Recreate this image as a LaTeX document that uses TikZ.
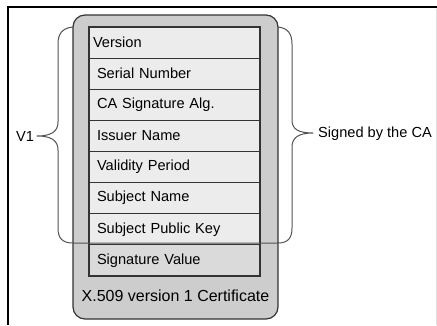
\documentclass[tikz,border=0pt]{standalone}
\usepackage{fontspec}
\setmainfont{Liberation Sans}
\definecolor{certgray}{HTML}{CDCDCD}
\definecolor{fieldgray}{HTML}{ECECEC}
\definecolor{siggray}{HTML}{DADADA}
\definecolor{edge}{HTML}{333333}
\tikzset{
  field/.style={draw=edge, line width=1.2pt, fill=fieldgray, minimum width=171pt,
    minimum height=31.125pt, text width=155pt, inner xsep=8pt, inner ysep=0pt,
    align=left, font=\fontsize{14.6}{16}\selectfont},
  label/.style={font=\fontsize{14.6}{16}\selectfont, inner sep=0pt},
  bracket/.style={draw=edge!85, line width=1pt, line join=round}
}
\begin{document}
\begin{tikzpicture}[x=1pt, y=-1pt]
  \useasboundingbox (0,0) rectangle (437,325);
  % page frame
  \draw[black, line width=1.6pt] (437,7) -- (8,7) -- (8,325);
  \draw[black!12, line width=0.6pt] (436,9) -- (436,325);
  % certificate body
  \node[draw=edge, line width=1.2pt, fill=certgray, rounded corners=12pt,
        minimum width=205pt, minimum height=304pt, inner sep=0pt]
        (cert) at (175.5,167) {};
  % field rows
  \node[field] (r1) at (174.5, 42.56)  {\hspace*{-4pt}Version};
  \node[field] (r2) at (174.5, 73.69)  {Serial Number};
  \node[field] (r3) at (174.5, 104.81) {CA Signature Alg.};
  \node[field] (r4) at (174.5, 135.94) {Issuer Name};
  \node[field] (r5) at (174.5, 167.06) {Validity Period};
  \node[field] (r6) at (174.5, 198.19) {Subject Name};
  \node[field] (r7) at (174.5, 229.31) {Subject Public Key};
  \node[field, fill=siggray] (r8) at (174.5, 260.44) {Signature Value};
  \node[label, font=\fontsize{16}{18}\selectfont] (cap) at (175.5, 296) {X.509 version 1 Certificate};
  % side labels
  \node[label] (v1) at (25, 136) {V1};
  \node[label, anchor=west] (sig) at (318, 134) {Signed by the CA};
  % braces
  \coordinate (lt) at (73,27);
  \coordinate (lb) at (73,243);
  \coordinate (rt) at (278,27);
  \coordinate (rb) at (278,243);
  \draw[bracket] (lt) .. controls (62,28) and (58,34) .. (58,44)
    -- (58,122) .. controls (58,131) and (52,136) .. (37,136)
    .. controls (52,136) and (58,141) .. (58,150)
    -- (58,228) .. controls (58,238) and (62,243) .. (lb) -- (rb);
  \draw[bracket] (rt) .. controls (288,28) and (292,34) .. (292,44)
    -- (292,120) .. controls (292,129) and (298,133) .. (313,133)
    .. controls (298,133) and (292,138) .. (292,147)
    -- (292,228) .. controls (292,238) and (288,243) .. (rb);
\end{tikzpicture}
\end{document}
